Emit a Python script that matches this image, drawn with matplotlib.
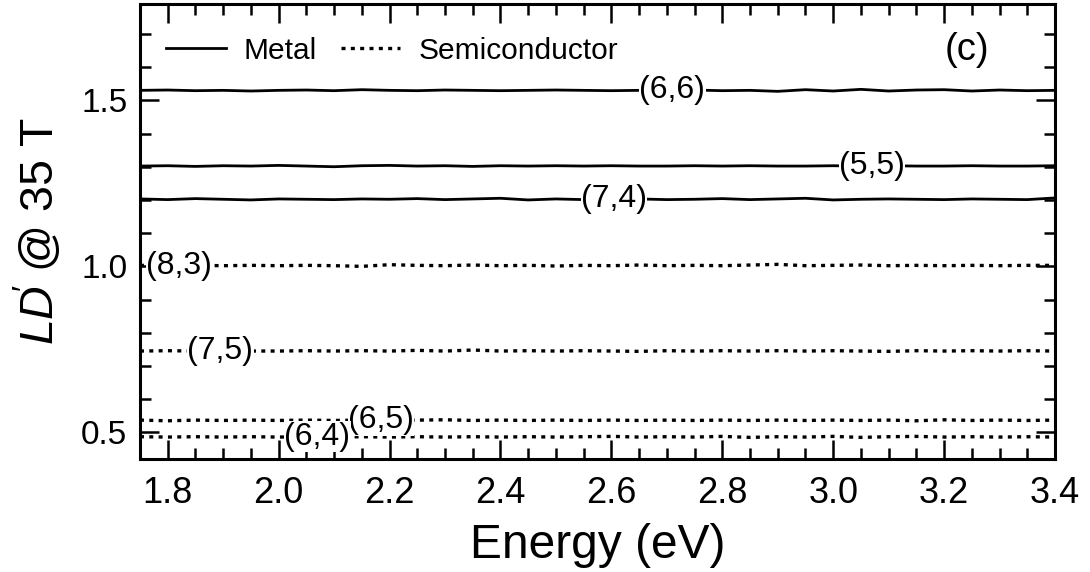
import matplotlib
matplotlib.use("Agg")
import matplotlib.pyplot as plt
from matplotlib.lines import Line2D
from matplotlib.ticker import MultipleLocator, FormatStrFormatter

plt.rcParams['font.family'] = ['Liberation Sans', 'DejaVu Sans']
plt.rcParams['mathtext.fontset'] = 'custom'
plt.rcParams['mathtext.rm'] = 'Liberation Sans'
plt.rcParams['mathtext.it'] = 'Liberation Sans:italic'

# photon energy (eV)
energy = [1.75, 1.80, 1.85, 1.90, 1.95, 2.00, 2.05, 2.10, 2.15, 2.20, 2.25, 2.30,
          2.35, 2.40, 2.45, 2.50, 2.55, 2.60, 2.65, 2.70, 2.75, 2.80, 2.85, 2.90,
          2.95, 3.00, 3.05, 3.10, 3.15, 3.20, 3.25, 3.30, 3.35, 3.40]

# metallic tubes (solid)
ld_66 = [1.530, 1.531, 1.529, 1.530, 1.528, 1.530, 1.531, 1.529, 1.532, 1.530, 1.529, 1.531,
         1.530, 1.529, 1.530, 1.531, 1.530, 1.529, 1.530, 1.530, 1.531, 1.529, 1.530, 1.527,
         1.532, 1.528, 1.533, 1.528, 1.531, 1.532, 1.528, 1.531, 1.529, 1.530]
ld_55 = [1.302, 1.303, 1.301, 1.303, 1.302, 1.304, 1.302, 1.300, 1.303, 1.304, 1.302, 1.303,
         1.301, 1.303, 1.302, 1.303, 1.302, 1.303, 1.302, 1.302, 1.303, 1.302, 1.303, 1.302,
         1.302, 1.303, 1.302, 1.303, 1.302, 1.302, 1.303, 1.302, 1.302, 1.303]
ld_74 = [1.203, 1.201, 1.204, 1.202, 1.200, 1.203, 1.202, 1.201, 1.203, 1.202, 1.204, 1.201,
         1.203, 1.205, 1.200, 1.203, 1.201, 1.202, 1.203, 1.201, 1.202, 1.204, 1.201, 1.203,
         1.205, 1.200, 1.202, 1.203, 1.202, 1.201, 1.203, 1.202, 1.201, 1.206]

# semiconducting tubes (dotted)
ld_83 = [1.003, 1.002, 1.003, 1.002, 1.003, 1.002, 1.003, 1.002, 1.000, 1.005, 1.003, 1.002,
         1.004, 1.002, 1.003, 1.001, 1.003, 1.002, 1.004, 1.002, 1.003, 1.002, 1.004, 1.006,
         1.002, 1.003, 1.004, 1.002, 1.003, 1.002, 1.003, 1.002, 1.003, 1.003]
ld_75 = [0.745, 0.746, 0.745, 0.746, 0.745, 0.745, 0.746, 0.745, 0.746, 0.745, 0.747, 0.745,
         0.748, 0.745, 0.746, 0.745, 0.746, 0.745, 0.744, 0.746, 0.745, 0.746, 0.745, 0.746,
         0.745, 0.746, 0.745, 0.744, 0.746, 0.745, 0.746, 0.745, 0.746, 0.745]
ld_65 = [0.537, 0.535, 0.537, 0.536, 0.537, 0.536, 0.537, 0.536, 0.537, 0.536, 0.537, 0.538,
         0.536, 0.537, 0.536, 0.537, 0.536, 0.537, 0.536, 0.537, 0.536, 0.537, 0.536, 0.537,
         0.536, 0.537, 0.536, 0.537, 0.535, 0.538, 0.536, 0.537, 0.536, 0.537]
ld_64 = [0.487, 0.486, 0.487, 0.486, 0.487, 0.486, 0.487, 0.486, 0.487, 0.486, 0.487, 0.486,
         0.487, 0.486, 0.487, 0.486, 0.487, 0.488, 0.486, 0.487, 0.486, 0.488, 0.485, 0.487,
         0.486, 0.488, 0.485, 0.487, 0.488, 0.486, 0.487, 0.486, 0.487, 0.486]

metal = [(ld_66, "(6,6)", 2.71), (ld_55, "(5,5)", 3.07), (ld_74, "(7,4)", 2.605)]
semi = [(ld_83, "(8,3)", 1.82), (ld_75, "(7,5)", 1.895), (ld_65, "(6,5)", 2.185), (ld_64, "(6,4)", 2.07)]

fig = plt.figure(figsize=(10.9, 5.72), dpi=100)
ax = fig.add_axes([0.1284, 0.1976, 0.8395, 0.7954])

dot = (0, (1.2, 1.6))
for vals, name, xl in metal:
    ax.plot(energy, vals, color='black', lw=2.0, solid_capstyle='butt')
for vals, name, xl in semi:
    ax.plot(energy, vals, color='black', lw=2.4, linestyle=dot)

for vals, name, xl in metal + semi:
    yl = vals[min(range(len(energy)), key=lambda i: abs(energy[i] - xl))]
    ax.text(xl, yl, name, fontsize=23, ha='center', va='center', zorder=10,
            bbox=dict(facecolor='white', edgecolor='none', pad=0.3))

handles = [Line2D([], [], color='black', lw=2.0),
           Line2D([], [], color='black', lw=2.4, linestyle=dot)]
ax.legend(handles, ["Metal", "Semiconductor"], ncol=2, frameon=False, fontsize=21.5,
          loc='center left', bbox_to_anchor=(0.012, 0.897), borderpad=0,
          handlelength=2.0, handletextpad=0.6, columnspacing=0.8)

ax.text(0.904, 0.899, "(c)", transform=ax.transAxes, fontsize=27.5, ha='center', va='center')

ax.set_xlim(1.75, 3.4)
ax.set_ylim(0.42, 1.79)
ax.xaxis.set_major_locator(MultipleLocator(0.2))
ax.xaxis.set_minor_locator(MultipleLocator(0.05))
ax.yaxis.set_major_locator(MultipleLocator(0.5))
ax.yaxis.set_minor_locator(MultipleLocator(0.1))
ax.xaxis.set_major_formatter(FormatStrFormatter('%.1f'))
ax.yaxis.set_major_formatter(FormatStrFormatter('%.1f'))
ax.tick_params(which='both', direction='in', top=True, right=True, width=1.8)
ax.tick_params(which='major', length=14)
ax.tick_params(which='minor', length=8)
ax.tick_params(axis='x', pad=12, labelsize=26)
ax.tick_params(axis='y', pad=9, labelsize=24)
for s in ax.spines.values():
    s.set_linewidth(2.2)

ax.set_xlabel("Energy (eV)", fontsize=34.5, labelpad=9)
ax.set_ylabel(r"$LD\!^{\prime}$ @ 35 T", fontsize=33.5, labelpad=12)

fig.savefig("out.png", dpi=100)
